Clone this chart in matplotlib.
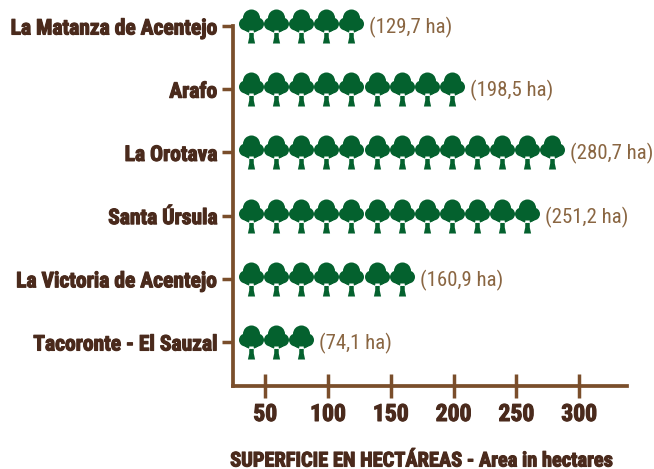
import matplotlib

matplotlib.use("Agg")

import matplotlib.patheffects as pe
import matplotlib.pyplot as plt
from matplotlib.path import Path
from matplotlib.transforms import ScaledTranslation

categories = [
    "Tacoronte - El Sauzal",
    "La Victoria de Acentejo",
    "Santa Úrsula",
    "La Orotava",
    "Arafo",
    "La Matanza de Acentejo",
]
tree_counts = [3, 7, 12, 13, 9, 5]
value_labels = ["(74,1 ha)", "(160,9 ha)", "(251,2 ha)", "(280,7 ha)", "(198,5 ha)", "(129,7 ha)"]
x_ticks = [50, 100, 150, 200, 250, 300]
x_label = "SUPERFICIE EN HECTÁREAS - Area in hectares"

ha_per_tree = 20
first_tree = 38.6

brown = "#7a4e2b"
dark = "#4a2a1c"
label_brown = "#8a6642"
green = "#04612e"
condensed = ["Roboto Condensed", "DejaVu Sans"]


def make_tree():
    parts = [
        Path.circle((0, 8.5), 8.5),
        Path.circle((-6, 2.5), 6.5),
        Path.circle((6, 2.5), 6.5),
        Path.circle((0, 3), 9.5),
        Path(
            [(-2.2, -4), (2.2, -4), (2.3, -11), (3.6, -17), (-3.6, -17), (-2.3, -11), (-2.2, -4)],
            closed=True,
        ),
    ]
    return Path.make_compound_path(*parts)


fig = plt.figure(figsize=(6.54, 4.69), dpi=100)
ax = fig.add_axes([233 / 654, 1 - 385.6 / 469, (627 - 233) / 654, (385.6 - 25.5) / 469])
ax.set_xlim(24.3, 338)
ax.set_ylim(-0.69, 5.008)

tree = make_tree()
for i, (count, label) in enumerate(zip(tree_counts, value_labels)):
    xs = [first_tree + ha_per_tree * n for n in range(count)]
    ax.scatter(xs, [i] * count, marker=tree, s=600, color=green, linewidths=0, clip_on=False, zorder=3)
    ax.annotate(
        label,
        (xs[-1], i),
        xytext=(13, -1),
        textcoords="offset points",
        va="center",
        ha="left",
        fontsize=15,
        fontweight="normal",
        color=label_brown,
        family=condensed,
        annotation_clip=False,
    )

stroke = [pe.withStroke(linewidth=0.8, foreground=dark)]

ax.set_yticks(range(len(categories)))
ax.set_yticklabels(categories, fontsize=15.5, fontweight="bold", color=dark, family=condensed, path_effects=stroke)
# labels sit a little above their ticks
nudge = ScaledTranslation(0, 1.5 / 100, fig.dpi_scale_trans)
for tick_label in ax.get_yticklabels():
    tick_label.set_transform(tick_label.get_transform() + nudge)
ax.set_xticks(x_ticks)
ax.set_xticklabels(x_ticks, fontsize=17, fontweight="bold", color=dark, family=condensed, path_effects=stroke)
ax.tick_params(axis="y", length=8, width=2.5, color=brown, pad=3.5)
ax.tick_params(axis="x", direction="inout", length=17, width=2.5, color=brown, pad=4)

for side in ["top", "right"]:
    ax.spines[side].set_visible(False)
for side in ["left", "bottom"]:
    ax.spines[side].set_color(brown)
    ax.spines[side].set_linewidth(2.7)

fig.text(
    421 / 654,
    1 - 461 / 469,
    x_label,
    ha="center",
    va="center",
    fontsize=14.7,
    fontweight="bold",
    color=dark,
    family=condensed,
    path_effects=stroke,
)

fig.savefig("out.png", dpi=100)
